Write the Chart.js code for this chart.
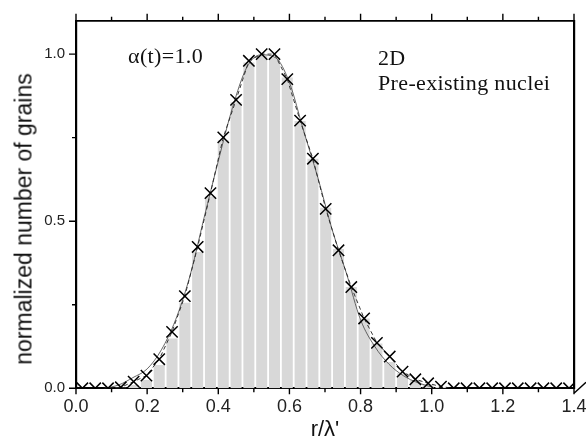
<!DOCTYPE html>
<html>
<head>
<meta charset="utf-8">
<script src="https://cdn.jsdelivr.net/npm/chart.js@4.4.1/dist/chart.umd.min.js"></script>
<style>
  html, body { margin: 0; padding: 0; background: #fff; }
  #wrap { position: relative; width: 586px; height: 447px; }
  #chart { position: absolute; left: 0; top: 0; }
  .note { position: absolute; white-space: nowrap; line-height: 1; color: #111; letter-spacing: 0.35px;
          font-family: "Liberation Serif", "Times New Roman", serif; font-size: 22px; }
  #alpha { left: 128px; top: 44.6px; }
  #dim { left: 378px; top: 46.6px; }
  #kind { left: 378px; top: 71.6px; }
  #ytitle { position: absolute; left: 24px; top: 219px; white-space: nowrap; line-height: 1;
            font-family: "Liberation Sans", Arial, sans-serif; font-size: 23px; color: #111;
            transform: translate(-50%, -50%) rotate(-90deg); }
</style>
</head>
<body>
<div id="wrap">
  <canvas id="chart" width="586" height="447"></canvas>
  <div class="note" id="alpha">α(t)=1.0</div>
  <div class="note" id="dim">2D</div>
  <div class="note" id="kind">Pre-existing nuclei</div>
  <div id="ytitle">normalized number of grains</div>
</div>
<script>
// --- Data ---
// bin centres (r/lambda')
const binCenters = [0.018, 0.054, 0.090, 0.126, 0.162, 0.198, 0.234, 0.270, 0.306, 0.342,
                    0.378, 0.414, 0.450, 0.486, 0.522, 0.558, 0.594, 0.630, 0.666, 0.702,
                    0.738, 0.774, 0.810, 0.846, 0.882, 0.918, 0.954, 0.990, 1.026, 1.062,
                    1.098, 1.134, 1.170, 1.206, 1.242, 1.278, 1.314, 1.350, 1.386];

// grey histogram
const barHeights = [0, 0, 0, 0.002, 0.010, 0.025, 0.070, 0.149, 0.256, 0.408,
                    0.574, 0.742, 0.856, 0.975, 0.995, 0.990, 0.930, 0.800, 0.687, 0.540,
                    0.417, 0.303, 0.209, 0.134, 0.079, 0.045, 0.025, 0.012, 0.004, 0,
                    0, 0, 0, 0, 0, 0, 0, 0, 0];

// crosses
const crossValues = [0, 0, 0, 0.003, 0.020, 0.038, 0.087, 0.169, 0.276, 0.423,
                     0.584, 0.751, 0.863, 0.980, 1.000, 1.000, 0.925, 0.801, 0.687, 0.537,
                     0.413, 0.303, 0.209, 0.136, 0.095, 0.050, 0.027, 0.015, 0.005, 0,
                     0, 0, 0, 0, 0, 0, 0, 0, 0];

// thin smooth curve
const curveX = [0.08, 0.12, 0.16, 0.20, 0.24, 0.28, 0.32, 0.36, 0.40, 0.44, 0.48, 0.52,
                0.56, 0.60, 0.64, 0.68, 0.72, 0.76, 0.80, 0.84, 0.88, 0.92, 0.96, 1.00];
const curveY = [0, 0.010, 0.032, 0.058, 0.115, 0.205, 0.335, 0.510, 0.680, 0.840, 0.960, 0.998,
                0.990, 0.915, 0.770, 0.630, 0.475, 0.345, 0.205, 0.125, 0.072, 0.038, 0.017, 0.004];

// axis ticks
const xMajorTicks = [0, 0.2, 0.4, 0.6, 0.8, 1.0, 1.2, 1.4];
const xMinorTicks = [0.1, 0.3, 0.5, 0.7, 0.9, 1.1, 1.3];
const yMajorTicks = [0, 0.5, 1.0];
const yMinorTicks = [0.25, 0.75];

const sans = 'Liberation Sans, Arial, sans-serif';

// tick marks on the frame (outward, major + minor) and the break mark at lower right
const axisMarks = {
    id: 'axisMarks',
    afterDraw(chart) {
        const { ctx, chartArea: area, scales } = chart;
        const x = scales.x, y = scales.y;
        const seg = (x1, y1, x2, y2) => { ctx.moveTo(x1, y1); ctx.lineTo(x2, y2); };
        ctx.save();
        ctx.strokeStyle = '#000';
        ctx.lineWidth = 1.4;
        ctx.beginPath();
        xMajorTicks.forEach(v => {
            const p = x.getPixelForValue(v);
            seg(p, area.bottom, p, area.bottom + 6);
            seg(p, area.top, p, area.top - 7);
        });
        xMinorTicks.forEach(v => {
            const p = x.getPixelForValue(v);
            seg(p, area.bottom, p, area.bottom + 4);
            seg(p, area.top, p, area.top - 4);
        });
        yMajorTicks.forEach(v => {
            const p = y.getPixelForValue(v);
            seg(area.left, p, area.left - 7, p);
        });
        yMinorTicks.forEach(v => {
            const p = y.getPixelForValue(v);
            seg(area.left, p, area.left - 4, p);
        });
        seg(area.right, area.bottom + 5, area.right + 12, area.bottom - 6);
        ctx.stroke();
        ctx.restore();
    }
};

// keep the frame where it is in the figure, even if the end labels stick out
const fixPadding = s => { s.paddingLeft = 0; s.paddingRight = 0; s.paddingTop = 0; s.paddingBottom = 0; };

const barPts = binCenters.map((x, i) => ({ x, y: barHeights[i] }));
const crossPts = binCenters.map((x, i) => ({ x, y: crossValues[i] }));
const curvePts = curveX.map((x, i) => ({ x, y: curveY[i] }));

new Chart(document.getElementById('chart'), {
    type: 'bar',
    data: {
        datasets: [
            {
                type: 'line',
                data: crossPts,
                xAxisID: 'x', yAxisID: 'y',
                showLine: true,
                borderColor: '#222',
                borderWidth: 0.9,
                borderDash: [4, 3],
                tension: 0,
                pointStyle: 'crossRot',
                pointRadius: 8,
                pointBorderWidth: 1.5,
                pointBorderColor: '#000',
                pointBackgroundColor: 'rgba(0,0,0,0)',
                clip: 0,
                order: 0
            },
            {
                type: 'line',
                data: curvePts,
                xAxisID: 'x', yAxisID: 'y',
                borderColor: '#555',
                borderWidth: 0.9,
                pointRadius: 0,
                cubicInterpolationMode: 'monotone',
                clip: 0,
                order: 1
            },
            {
                type: 'bar',
                data: barPts,
                xAxisID: 'x', yAxisID: 'y',
                backgroundColor: '#d8d8d8',
                borderWidth: 0,
                barPercentage: 0.86,
                categoryPercentage: 1.0,
                order: 2
            }
        ]
    },
    options: {
        responsive: false,
        animation: false,
        devicePixelRatio: 1,
        layout: { padding: 0 },
        plugins: { legend: { display: false }, tooltip: { enabled: false } },
        scales: {
            x: {
                type: 'linear', position: 'bottom', min: 0, max: 1.4, offset: false, z: 1,
                grid: { display: false, drawTicks: false, offset: false },
                border: { display: true, color: '#000', width: 2 },
                ticks: {
                    stepSize: 0.2, padding: 8, color: '#222', maxRotation: 0, autoSkip: false,
                    font: { family: sans, size: 18 },
                    callback: v => v.toFixed(1)
                },
                title: {
                    display: true, text: "r/λ'", color: '#111',
                    font: { family: sans, size: 22 }, padding: { top: 0, bottom: 4 }
                },
                afterFit: s => { fixPadding(s); s.height = 58.7; }
            },
            x2: {
                type: 'linear', position: 'top', min: 0, max: 1.4, offset: false,
                grid: { display: false, drawTicks: false },
                ticks: { display: false },
                border: { display: true, color: '#000', width: 1.8 },
                afterFit: s => { fixPadding(s); s.height = 20.7; }
            },
            y: {
                type: 'linear', position: 'left', min: 0, max: 1.1,
                grid: { display: false, drawTicks: false },
                border: { display: true, color: '#000', width: 2.2 },
                ticks: {
                    stepSize: 0.5, includeBounds: false, padding: 11, color: '#222',
                    font: { family: sans, size: 15 },
                    callback: v => v.toFixed(1)
                },
                afterFit: s => { fixPadding(s); s.width = 76; }
            },
            y2: {
                type: 'linear', position: 'right', min: 0, max: 1.1,
                grid: { display: false, drawTicks: false },
                ticks: { display: false },
                border: { display: true, color: '#000', width: 2.2 },
                afterFit: s => { fixPadding(s); s.width = 12; }
            }
        }
    },
    plugins: [axisMarks]
});
</script>
</body>
</html>
